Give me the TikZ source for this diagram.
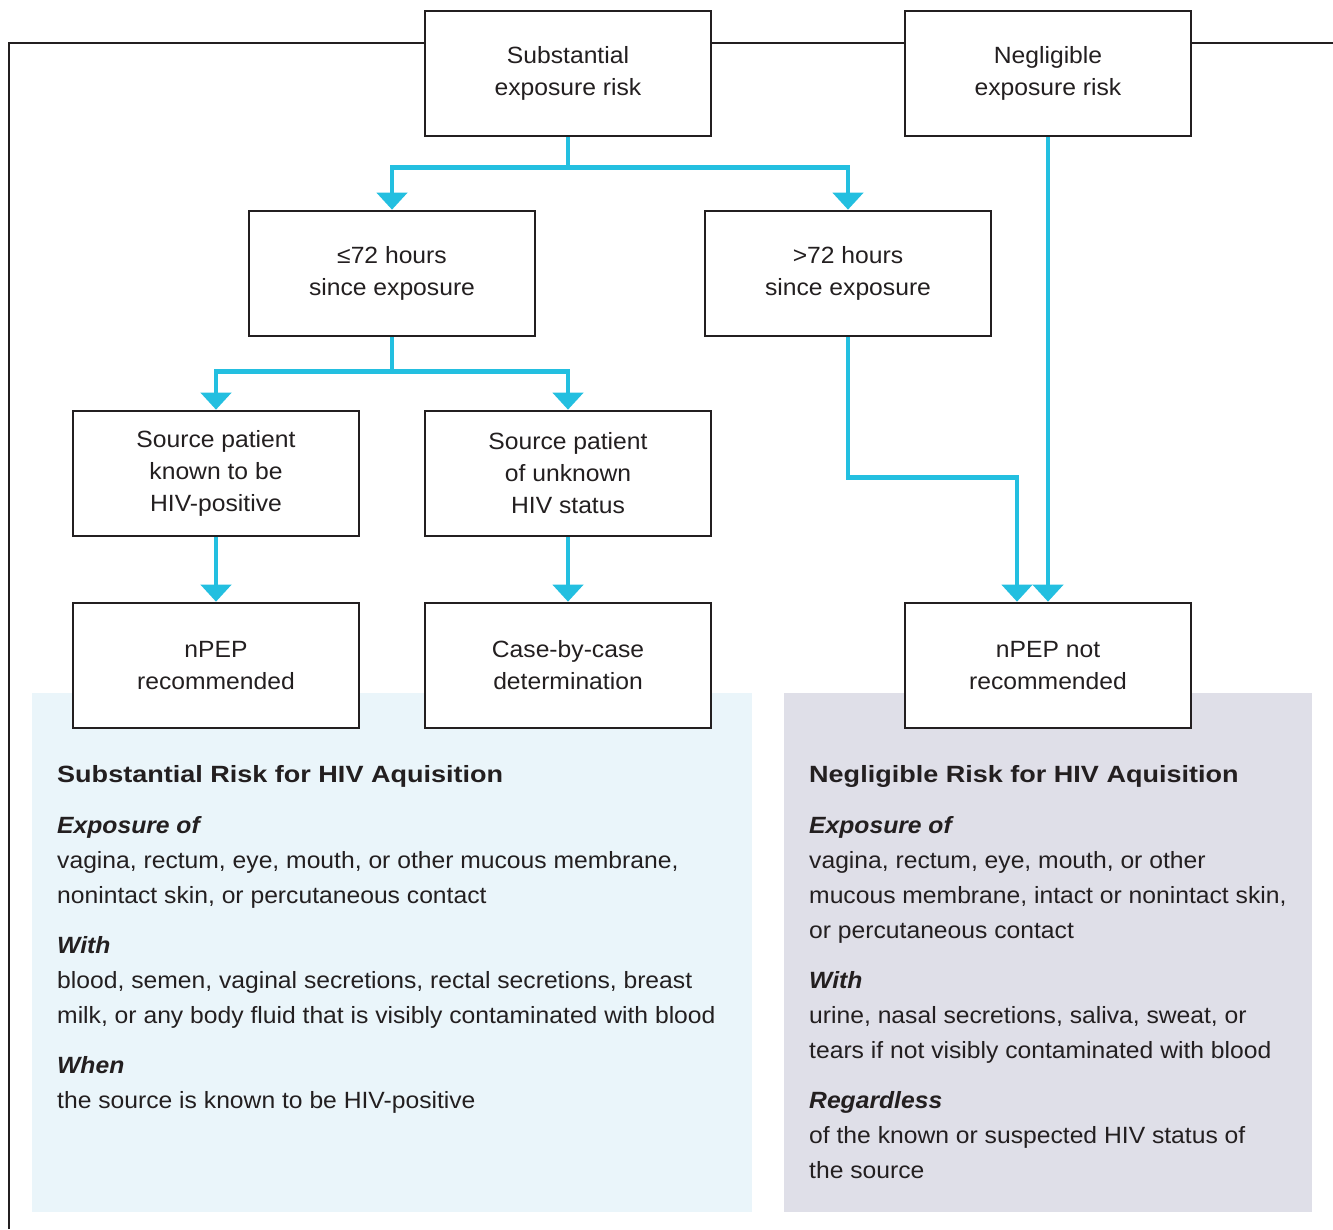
\documentclass[tikz,border=0pt]{standalone}
\usepackage{fontspec}
\setmainfont{Liberation Sans}[FakeStretch=1.05]
\newfontfamily\hdfont{Liberation Sans}[FakeStretch=1.15]
\usetikzlibrary{arrows.meta}
\definecolor{ink}{HTML}{231F20}
\definecolor{flowc}{HTML}{23BFE0}
\definecolor{panelA}{HTML}{EAF5FA}
\definecolor{panelB}{HTML}{DFDFE8}
\tikzset{
  box/.style={draw=ink, line width=2.6pt, fill=white, minimum width=286pt, minimum height=125pt,
    inner sep=0pt, align=center, text=ink, font=\fontsize{23.5}{32}\selectfont},
  conn/.style={draw=flowc, line width=4.5pt, line cap=butt, line join=miter,
    -{Triangle[width=30pt,length=17pt]}},
  frame/.style={draw=ink, line width=2.6pt},
  ptxt/.style={anchor=base west, inner sep=0pt, text=ink, font=\fontsize{23.5}{35}\selectfont},
  phead/.style={ptxt, font=\hdfont\fontsize{23.5}{35}\selectfont\bfseries},
  psub/.style={ptxt, font=\fontsize{23.5}{35}\selectfont\bfseries\itshape}
}
\begin{document}
\begin{tikzpicture}[x=1pt,y=-1pt]
\useasboundingbox (0,0) rectangle (1333,1229);
% panels
\fill[panelA] (32,693) rectangle (752,1212);
\fill[panelB] (784,693) rectangle (1312,1212);
% boxes
\node[box] (sub) at (568,73.5) {Substantial\\exposure risk};
\node[box] (neg) at (1048,73.5) {Negligible\\exposure risk};
\node[box] (le) at (392,273.5) {≤72 hours\\since exposure};
\node[box] (gt) at (848,273.5) {>72 hours\\since exposure};
\node[box] (spos) at (216,473.5) {Source patient\\known to be\\HIV-positive};
\node[box] (sunk) at (568,473.5) {Source patient\\of unknown\\HIV status};
\node[box] (rec) at (216,665.5) {nPEP\\recommended};
\node[box] (cbc) at (568,665.5) {Case-by-case\\determination};
\node[box] (nrec) at (1048,665.5) {nPEP not\\recommended};
% frame line
\coordinate (fl) at (9,1229);
\coordinate (fr) at (1333,43);
\draw[frame] (fl) |- (sub.west |- 0,43);
\draw[frame] (sub.east |- 0,43) -- (neg.west |- 0,43);
\draw[frame] (neg.east |- 0,43) -- (fr);
% connectors
\draw[conn] (sub.south) -- ++(0,30) -| (le.north);
\draw[conn] (sub.south) -- ++(0,30) -| (gt.north);
\draw[conn] (le.south) -- ++(0,34) -| (spos.north);
\draw[conn] (le.south) -- ++(0,34) -| (sunk.north);
\draw[conn] (spos.south) -- (rec.north);
\draw[conn] (sunk.south) -- (cbc.north);
\draw[conn] (gt.south) -- ++(0,140) -| ([xshift=-31pt]nrec.north);
\draw[conn] (neg.south) -- (nrec.north);
% left panel text
\node[phead] (lh) at (57,782) {Substantial Risk for HIV Aquisition};
\node[psub] (l1) at (57,833) {Exposure of};
\node[ptxt] (l2) at (57,868) {vagina, rectum, eye, mouth, or other mucous membrane,};
\node[ptxt] (l3) at (57,903) {nonintact skin, or percutaneous contact};
\node[psub] (l4) at (57,953) {With};
\node[ptxt] (l5) at (57,988) {blood, semen, vaginal secretions, rectal secretions, breast};
\node[ptxt] (l6) at (57,1023) {milk, or any body fluid that is visibly contaminated with blood};
\node[psub] (l7) at (57,1073) {When};
\node[ptxt] (l8) at (57,1108) {the source is known to be HIV-positive};
% right panel text
\node[phead] (rh) at (809,782) {Negligible Risk for HIV Aquisition};
\node[psub] (r1) at (809,833) {Exposure of};
\node[ptxt] (r2) at (809,868) {vagina, rectum, eye, mouth, or other};
\node[ptxt] (r3) at (809,903) {mucous membrane, intact or nonintact skin,};
\node[ptxt] (r4) at (809,938) {or percutaneous contact};
\node[psub] (r5) at (809,988) {With};
\node[ptxt] (r6) at (809,1023) {urine, nasal secretions, saliva, sweat, or};
\node[ptxt] (r7) at (809,1058) {tears if not visibly contaminated with blood};
\node[psub] (r8) at (809,1108) {Regardless};
\node[ptxt] (r9) at (809,1143) {of the known or suspected HIV status of};
\node[ptxt] (r10) at (809,1178) {the source};
\end{tikzpicture}
\end{document}
